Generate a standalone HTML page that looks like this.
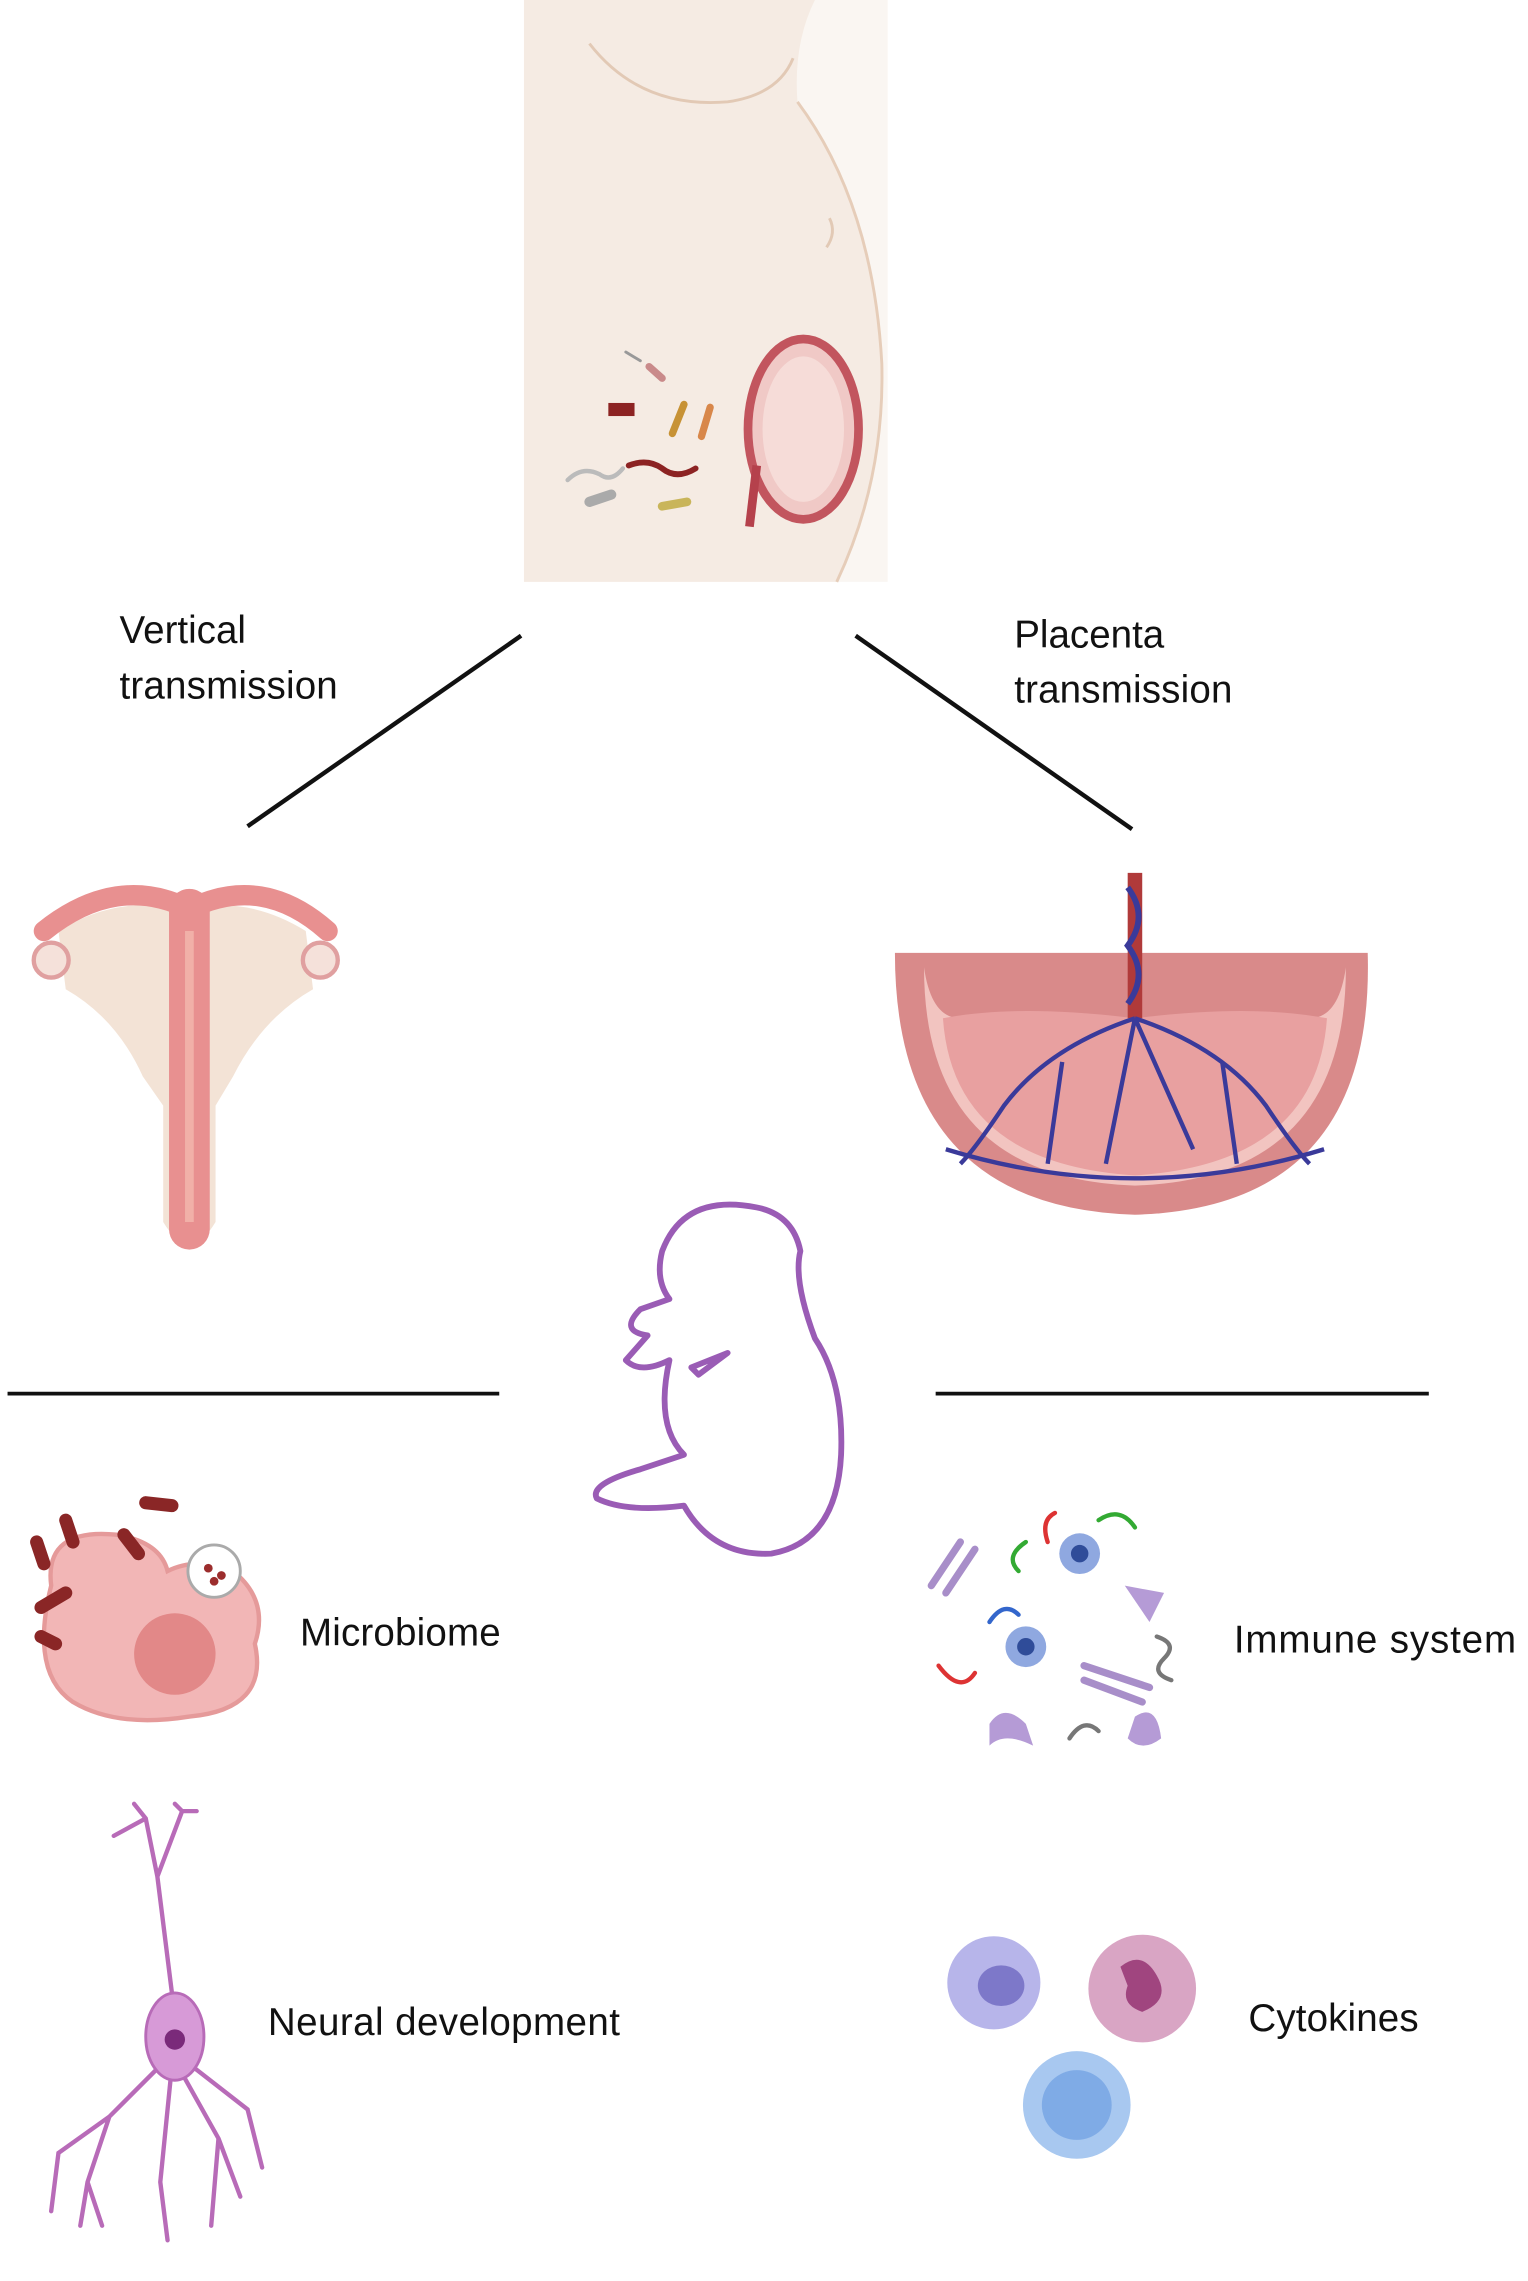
<!DOCTYPE html>
<html><head><meta charset="utf-8"><style>
html,body{margin:0;padding:0;background:#fff;}
svg{display:block;}
text{font-family:"Liberation Sans",sans-serif;font-size:26.5px;fill:#111;}
</style></head><body>
<svg width="1528" height="2281" viewBox="0 0 1050 1568" xmlns="http://www.w3.org/2000/svg">
<!-- pregnant woman -->
<rect x="360" y="0" width="250" height="400" fill="#faf6f2"/>
<path d="M360 0 L560 0 Q545 30 548 70 Q600 140 606 250 Q608 330 575 400 L360 400 Z" fill="#f5ebe3"/>
<path d="M405 30 Q440 75 500 70 Q535 65 545 40" fill="none" stroke="#e2c9b5" stroke-width="2"/>
<path d="M548 70 Q600 140 606 250 Q608 330 575 400" fill="none" stroke="#e6cdb9" stroke-width="2"/>
<path d="M570 150 Q575 160 568 170" fill="none" stroke="#e2c9b5" stroke-width="2"/>
<ellipse cx="552" cy="295" rx="38" ry="62" fill="#f0c9c6" stroke="#c2555e" stroke-width="6"/>
<ellipse cx="552" cy="295" rx="28" ry="50" fill="#f6dcd8"/>
<path d="M520 320 L515 362" stroke="#b5414c" stroke-width="6"/>
<g stroke-linecap="round">
<rect x="418" y="277" width="18" height="9" fill="#8c2323"/>
<path d="M432 320 Q445 315 455 322 Q465 330 478 322" fill="none" stroke="#8c2323" stroke-width="4"/>
<path d="M462 298 L470 278" stroke="#c79235" stroke-width="5"/>
<path d="M482 300 L488 280" stroke="#d8874a" stroke-width="5"/>
<path d="M390 330 Q400 320 412 326 Q420 332 428 322" fill="none" stroke="#bbb" stroke-width="3"/>
<path d="M405 345 L420 340" stroke="#aaa" stroke-width="7"/>
<path d="M455 348 L472 345" stroke="#c9b55a" stroke-width="6"/>
<path d="M446 252 L455 260" stroke="#c98a8a" stroke-width="5"/>
<path d="M430 242 L440 248" stroke="#999" stroke-width="2"/>
</g>
<!-- connector lines -->
<line x1="358" y1="437" x2="170" y2="568" stroke="#111" stroke-width="3"/>
<line x1="588" y1="437" x2="778" y2="570" stroke="#111" stroke-width="3"/>
<text x="82" y="442">Vertical</text>
<text x="82" y="480" textLength="150">transmission</text>
<text x="697" y="445">Placenta</text>
<text x="697" y="483" textLength="150">transmission</text>
<!-- uterus -->
<path d="M40 640 Q80 615 125 625 Q170 615 210 640 L215 680 Q180 700 160 740 L148 760 L148 840 Q130 870 112 840 L112 760 L98 740 Q80 700 45 680 Z" fill="#f3e3d6"/>
<path d="M30 640 Q80 600 130 625 Q180 600 225 640" fill="none" stroke="#e89090" stroke-width="14" stroke-linecap="round"/>
<path d="M130 625 L130 845" stroke="#e89090" stroke-width="28" stroke-linecap="round"/>
<path d="M130 640 L130 840" stroke="#f1b0a8" stroke-width="6"/>
<circle cx="35" cy="660" r="12" fill="#f5e1da" stroke="#e0a0a0" stroke-width="3"/>
<circle cx="220" cy="660" r="12" fill="#f5e1da" stroke="#e0a0a0" stroke-width="3"/>
<!-- placenta -->
<path d="M615 655 L940 655 Q945 830 780 835 Q615 830 615 655 Z" fill="#d98a8a"/>
<path d="M635 665 Q640 700 660 700 L900 700 Q920 700 925 665 Q925 810 780 815 Q635 810 635 665 Z" fill="#f2c4c0"/>
<path d="M648 700 Q700 690 780 700 Q860 690 912 700 Q905 800 780 808 Q655 800 648 700Z" fill="#e8a0a0"/>
<path d="M780 600 L780 700" stroke="#b03a3a" stroke-width="10"/>
<path d="M775 610 Q790 630 775 650 Q790 670 775 690" fill="none" stroke="#3a3a9a" stroke-width="4"/>
<g fill="none" stroke="#3a3a9a" stroke-width="3">
<path d="M780 700 Q720 720 690 760 Q670 790 660 800"/>
<path d="M780 700 Q840 720 870 760 Q890 790 900 800"/>
<path d="M780 700 L760 800 M780 700 L820 790 M730 730 L720 800 M840 730 L850 800"/>
<path d="M650 790 Q780 830 910 790"/>
</g>
<!-- fetus -->
<path d="M520 830 Q470 820 455 860 Q450 880 460 893 L440 900 Q425 915 445 918 L430 935 Q440 945 460 935 Q450 980 470 1000 L440 1010 Q405 1020 410 1030 Q430 1040 470 1035 Q490 1070 530 1068 Q575 1060 578 1000 Q580 950 560 920 Q545 880 550 860 Q545 835 520 830 Z M475 940 L500 930 L480 945 Z" fill="none" stroke="#9a5cb5" stroke-width="4" stroke-linejoin="round"/>
<!-- horizontal lines -->
<line x1="5" y1="958" x2="343" y2="958" stroke="#111" stroke-width="2.5"/>
<line x1="643" y1="958" x2="982" y2="958" stroke="#111" stroke-width="2.5"/>
<!-- microbiome -->
<path d="M35 1090 Q30 1050 80 1055 Q110 1060 115 1080 Q135 1070 160 1080 Q185 1100 175 1130 Q185 1175 130 1180 Q80 1188 50 1170 Q20 1150 35 1090Z" fill="#f2b6b6" stroke="#e59a9a" stroke-width="3"/>
<circle cx="120" cy="1137" r="28" fill="#e28888"/>
<circle cx="147" cy="1080" r="18" fill="#fff" stroke="#aaa" stroke-width="2"/>
<g fill="#9c2d2d"><circle cx="143" cy="1078" r="3"/><circle cx="152" cy="1083" r="3"/><circle cx="147" cy="1087" r="3"/></g>
<g stroke="#8a2626" stroke-width="9" stroke-linecap="round">
<line x1="25" y1="1060" x2="30" y2="1075"/><line x1="45" y1="1045" x2="50" y2="1060"/>
<line x1="85" y1="1055" x2="95" y2="1068"/><line x1="100" y1="1033" x2="118" y2="1035"/>
<line x1="28" y1="1105" x2="45" y2="1095"/><line x1="28" y1="1125" x2="38" y2="1130"/>
</g>
<text x="206" y="1131" textLength="138">Microbiome</text>
<!-- immune system -->
<g stroke-width="3" fill="none" stroke-linecap="round">
<path d="M720 1060 Q715 1045 725 1040" stroke="#d33"/>
<path d="M755 1045 Q770 1035 780 1050" stroke="#3a3"/>
<path d="M700 1080 Q690 1070 705 1060" stroke="#3a3"/>
<path d="M680 1115 Q690 1100 700 1110" stroke="#36c"/>
<path d="M645 1145 Q660 1165 670 1150" stroke="#d33"/>
<path d="M795 1125 Q810 1130 800 1140 Q790 1150 805 1155" stroke="#777"/>
<path d="M735 1195 Q745 1180 755 1190" stroke="#777"/>
<path d="M640 1090 L660 1060 M650 1095 L670 1065" stroke="#a88ec9" stroke-width="5"/>
<path d="M745 1145 L790 1160 M745 1155 L785 1170" stroke="#a88ec9" stroke-width="5"/>
</g>
<circle cx="742" cy="1068" r="14" fill="#8fa8e0"/><circle cx="742" cy="1068" r="6" fill="#2f4c99"/>
<circle cx="705" cy="1132" r="14" fill="#8fa8e0"/><circle cx="705" cy="1132" r="6" fill="#2f4c99"/>
<path d="M773 1090 L800 1095 L790 1115 Z" fill="#b59bd6"/>
<path d="M680 1185 Q690 1170 705 1185 L710 1200 Q690 1190 680 1200Z" fill="#b59bd6"/>
<path d="M780 1180 Q795 1170 798 1195 Q785 1205 775 1195Z" fill="#b59bd6"/>
<text x="848" y="1136" textLength="194">Immune system</text>
<!-- neuron -->
<g fill="none" stroke="#b86bb8" stroke-width="3" stroke-linecap="round">
<path d="M118 1370 L108 1290 L100 1250 L92 1240 M100 1250 L78 1262 M108 1290 L125 1245 L120 1240 M125 1245 L135 1245"/>
<path d="M110 1420 L75 1455 L60 1500 L55 1530 M75 1455 L40 1480 L35 1520 M118 1420 L110 1500 L115 1540 M122 1420 L150 1470 L145 1530 M125 1415 L170 1450 L180 1490 M60 1500 L70 1530 M150 1470 L165 1510"/>
</g>
<ellipse cx="120" cy="1400" rx="20" ry="30" fill="#d79ad7" stroke="#b86bb8" stroke-width="2"/>
<circle cx="120" cy="1402" r="7" fill="#7a2a7a"/>
<text x="184" y="1399" textLength="242">Neural development</text>
<!-- cytokines -->
<circle cx="683" cy="1363" r="32" fill="#b7b5ea"/><ellipse cx="688" cy="1365" rx="16" ry="14" fill="#7d78c9"/>
<circle cx="785" cy="1367" r="37" fill="#d9a5c4"/><path d="M770 1352 Q785 1340 795 1358 Q805 1375 785 1383 Q770 1378 775 1365Z" fill="#a0457f"/>
<circle cx="740" cy="1447" r="37" fill="#a8c8f0"/><circle cx="740" cy="1447" r="24" fill="#7fabe6"/>
<text x="858" y="1396" textLength="117">Cytokines</text>
</svg>
</body></html>
